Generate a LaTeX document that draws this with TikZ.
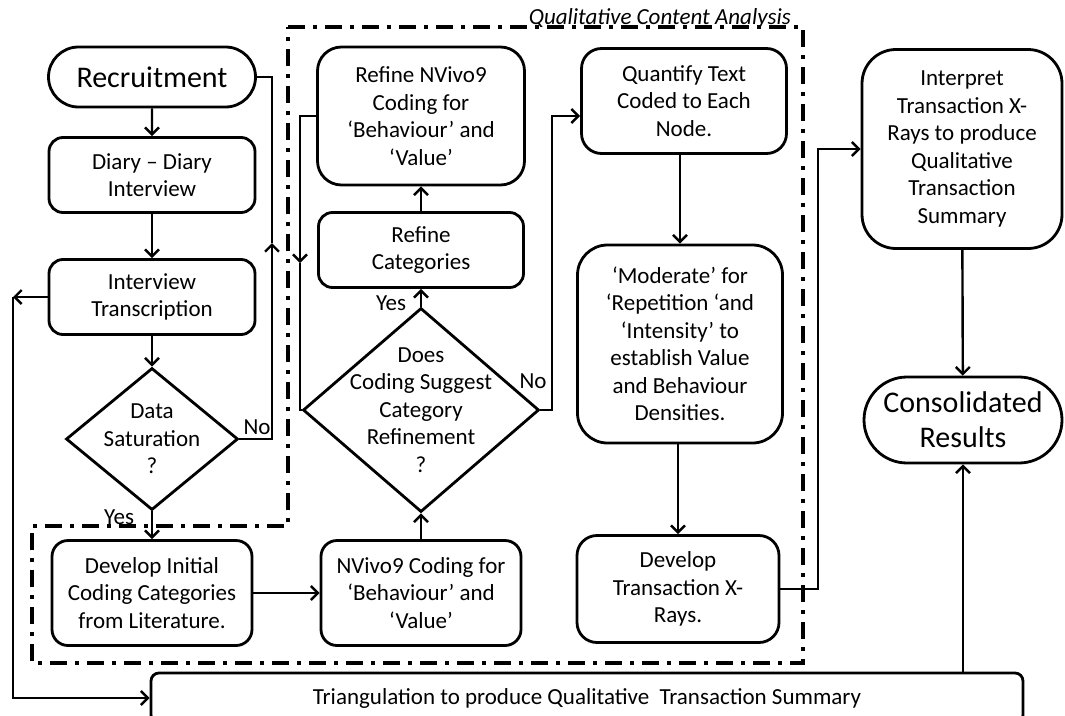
\documentclass[tikz,border=0pt]{standalone}
\usepackage{fontspec}
\setmainfont{Carlito}
\usetikzlibrary{shapes,arrows.meta}

\begin{document}
\begin{tikzpicture}[x=1pt,y=-1pt]
	\tikzstyle{every node}+=[inner sep=0pt, font=\fontsize{23}{27.5}\selectfont]
	\tikzstyle{proc}=[draw, line width=2.8pt, rounded corners=14pt, align=center]
	\tikzstyle{term}=[draw, line width=2.8pt, rounded rectangle, align=center, font=\fontsize{30}{35}\selectfont]
	\tikzstyle{decide}=[draw, line width=2.8pt, diamond, align=center, inner sep=-32pt]
	\tikzstyle{conn}=[line width=2.4pt]
	\tikzstyle{arr}=[conn, -{Straight Barb[length=7pt,width=14pt]}]
	\tikzstyle{dashdot}=[line width=3.4pt, dash pattern=on 17pt off 8pt on 4pt off 8pt]
	\useasboundingbox (0,0) rectangle (1065,715);
	\clip (0,0) rectangle (1065,715);
	% qualitative content analysis frame
	\draw [dashdot] (288,27) -- (803,27) -- (803,663) -- (32,663) -- (32,526) -- (288,526) -- cycle;
	\node [anchor=base east, font=\fontsize{23}{27}\selectfont\itshape] (qca) at (791,24) {Qualitative Content Analysis};
	% left column
	\node [term, minimum width=207pt, minimum height=60pt] (rec) at (152,77) {Recruitment};
	\node [proc, minimum width=206pt, minimum height=75pt] (diary) at (152,175) {Diary -- Diary\\Interview};
	\node [proc, minimum width=206pt, minimum height=75pt] (trans) at (152,297) {Interview\\Transcription};
	\node [decide, minimum width=172pt, minimum height=142pt] (sat) at (152,439) {Data\\Saturation\\?};
	\node [proc, rounded corners=16pt, minimum width=200pt, minimum height=105pt] (init) at (152,593) {Develop Initial\\Coding Categories\\from Literature.};
	% middle column
	\node [proc, rounded corners=16pt, minimum width=200pt, minimum height=105pt] (nvc) at (421,593) {NVivo9 Coding for\\‘Behaviour’ and\\‘Value’};
	\node [decide, minimum width=236pt, minimum height=204pt] (sug) at (421,410) {Does\\Coding Suggest\\Category\\Refinement\\?};
	\node [proc, minimum width=205pt, minimum height=75pt] (rcat) at (421,250) {Refine\\Categories};
	\node [proc, rounded corners=24pt, minimum width=207pt, minimum height=138pt] (rnv) at (421,116) {Refine NVivo9\\Coding for\\‘Behaviour’ and\\‘Value’};
	% right of the middle
	\node [proc, rounded corners=20pt, minimum width=205pt, minimum height=105pt] (quant) at (684,101) {Quantify Text\\Coded to Each\\Node.};
	\node [proc, rounded corners=30pt, minimum width=205pt, minimum height=198pt] (mod) at (680,344) {‘Moderate’ for\\‘Repetition ‘and\\‘Intensity’ to\\establish Value\\and Behaviour\\Densities.};
	\node [proc, rounded corners=20pt, minimum width=202pt, minimum height=107pt] (xray) at (678,589) {Develop\\Transaction X-\\Rays.};
	% results column
	\node [proc, rounded corners=34pt, minimum width=200pt, minimum height=199pt] (interp) at (962,149) {Interpret\\Transaction X-\\Rays to produce\\Qualitative\\Transaction\\Summary};
	\node [term, minimum width=198pt, minimum height=86pt] (cons) at (963,420) {Consolidated\\Results};
	\node [proc, rounded corners=8pt, minimum width=872pt, minimum height=50pt] (tri) at (587,698) {Triangulation to produce Qualitative\ \ Transaction Summary};
	% branch labels
	\node (satno) at (257,427) {No};
	\node (satyes) at (119,517) {Yes};
	\node (sugno) at (533,381) {No};
	\node (sugyes) at (391,303) {Yes};
	% turning points
	\coordinate (noup) at (272,243);
	\coordinate (loopdn) at (300,263);
	\coordinate (tleft) at (13,297);
	\coordinate (tonode) at (552,116);
	\coordinate (toint) at (818,149);
	% connectors
	\draw [arr] (rec) -- (diary);
	\draw [arr] (diary) -- (trans);
	\draw [arr] (trans) -- (sat);
	\draw [arr] (sat) -- (init);
	\draw [arr] (sat.east) -| (noup);
	\draw [conn] (noup) |- (rec.east);
	\draw [arr] (init) -- (nvc);
	\draw [arr] (nvc) -- (sug);
	\draw [arr] (sug) -- (rcat);
	\draw [arr] (rcat) -- (rnv);
	\draw [arr] (rnv.west) -| (loopdn);
	\draw [conn] (loopdn) |- (sug.west);
	\draw [arr] (sug.east) -| (tonode) -- (quant.west |- tonode);
	\draw [arr] (quant.south -| mod.north) -- (mod.north);
	\draw [arr] (mod.south -| xray.north) -- (xray.north);
	\draw [arr] (xray.east) -| (toint) -- (interp.west |- toint);
	\draw [arr] (interp) -- (cons);
	\draw [arr] (tri.north -| cons.south) -- (cons.south);
	\draw [arr] (trans.west) -- (tleft);
	\draw [arr] (tleft) |- (tri.west);
\end{tikzpicture}
\end{document}
